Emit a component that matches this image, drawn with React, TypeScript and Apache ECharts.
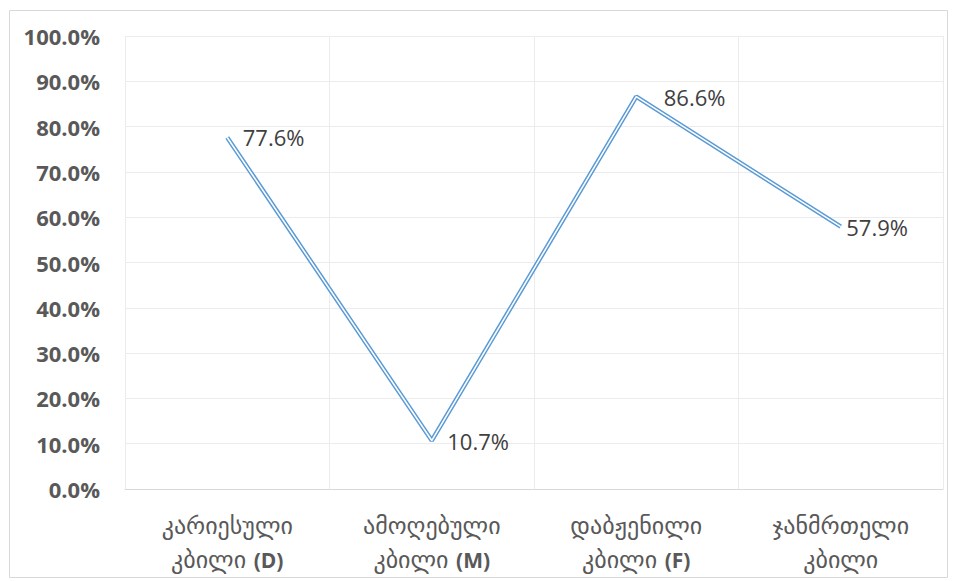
import React, { useEffect, useRef } from "react";
import * as echarts from "echarts";

const categoriesLine1 = ["კარიესული", "ამოღებული", "დაბჟენილი", "ჯანმრთელი"];
const categoriesLine2 = ["კბილი", "კბილი", "კბილი", "კბილი"];
const categoriesCode = ["(D)", "(M)", "(F)", ""];
const values = [77.6, 10.7, 86.6, 57.9];
const labelShiftX = [0, 0, 12, -10];

export default function App() {
  const ref = useRef<HTMLDivElement>(null);
  useEffect(() => {
    if (!ref.current) return;
    const chart = echarts.init(ref.current, undefined, { renderer: "svg" });
    const cats = categoriesLine1.map((c, i) => `${c}|${categoriesLine2[i]}|${categoriesCode[i]}`);
    chart.setOption({
      animation: false,
      backgroundColor: "#ffffff",
      graphic: [
        {
          type: "rect",
          shape: { x: 9.5, y: 10.5, width: 938, height: 567 },
          style: { fill: "none", stroke: "#d9d9d9", lineWidth: 1 },
          silent: true,
        },
      ],
      grid: { left: 125, right: 13, top: 36, bottom: 92, containLabel: false },
      xAxis: {
        type: "category",
        data: cats,
        boundaryGap: true,
        axisLine: { show: true, lineStyle: { color: "#d9d9d9", width: 1 } },
        axisTick: { show: false },
        splitLine: { show: true, lineStyle: { color: "#ececec", width: 1 } },
        axisLabel: {
          margin: 20,
          interval: 0,
          formatter: (v: string) => {
            const [a, b, c] = v.split("|");
            return `{n|${a}}\n{n|${b}}${c ? `{n| }{b|${c}}` : ""}`;
          },
          rich: {
            n: { fontFamily: "DejaVu Sans", fontSize: 24, color: "#595959", lineHeight: 34 },
            b: { fontFamily: "Open Sans", fontWeight: "bold", fontSize: 21, color: "#595959", lineHeight: 34 },
          },
        },
      },
      yAxis: {
        type: "value",
        min: 0,
        max: 100,
        interval: 10,
        axisLine: { show: false },
        axisTick: { show: false },
        splitLine: { show: true, lineStyle: { color: "#ececec", width: 1 } },
        axisLabel: {
          margin: 25,
          formatter: (v: number) => v.toFixed(1) + "%",
          fontFamily: "Open Sans",
          fontWeight: "bold",
          fontSize: 22,
          color: "#595959",
        },
      },
      series: [
        {
          type: "line",
          data: values.map((v, i) => ({ value: v, label: { offset: [labelShiftX[i], 0] } })),
          symbol: "circle",
          symbolSize: 1,
          showSymbol: true,
          itemStyle: { color: "rgba(0,0,0,0)" },
          lineStyle: { color: "#5b9bd5", width: 4.5 },
          label: {
            show: true,
            position: "right",
            distance: 15,
            formatter: (p: any) => p.value.toFixed(1) + "%",
            fontFamily: "Open Sans",
            fontSize: 22,
            color: "#404040",
          },
          z: 2,
        },
        {
          type: "line",
          data: values,
          symbol: "none",
          lineStyle: { color: "#ffffff", width: 1.5 },
          z: 3,
        },
      ],
    });
    return () => chart.dispose();
  }, []);
  return (
    <div
      ref={ref}
      style={{ position: "absolute", left: 0, top: 0, width: 956, height: 581 }}
    />
  );
}
